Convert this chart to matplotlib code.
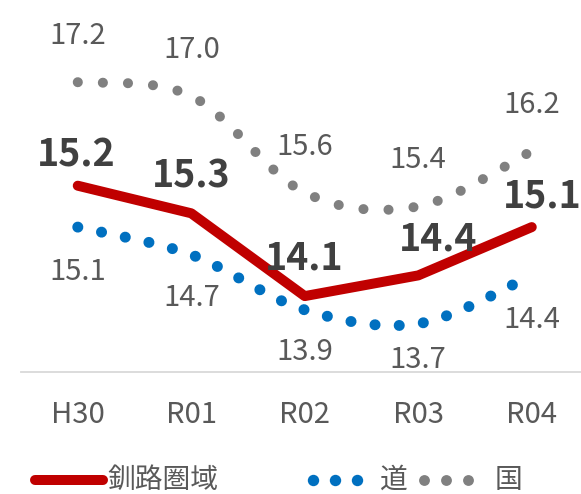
import matplotlib
matplotlib.use("Agg")
import matplotlib.pyplot as plt
from matplotlib.path import Path
from matplotlib.patches import PathPatch
from matplotlib.lines import Line2D
import numpy as np

plt.rcParams['font.family'] = ['Noto Sans CJK JP', 'DejaVu Sans']

categories = ["H30", "R01", "R02", "R03", "R04"]
kushiro_values = [15.7, 15.3, 14.1, 14.4, 15.1]
kushiro_labels = ["15.2", "15.3", "14.1", "14.4", "15.1"]
do_values = [15.1, 14.7, 13.9, 13.7, 14.4]
kuni_values = [17.2, 17.0, 15.6, 15.4, 16.2]
series_names = ["釧路圏域", "道", "国"]

RED = "#C00000"
BLUE = "#0070C0"
GRAY = "#808080"
TXT = "#595959"
BOLDTXT = "#404040"

W, H = 581, 494
fig = plt.figure(figsize=(W / 100, H / 100), dpi=100)
ax = fig.add_axes([21 / W, 1 - 372 / H, 567.5 / W, 345 / H])
ax.set_xlim(-0.5, len(categories) - 0.5)
ax.set_ylim(13, 18)

for s in ["top", "right", "left"]:
    ax.spines[s].set_visible(False)
ax.spines["bottom"].set_color("#D9D9D9")
ax.spines["bottom"].set_linewidth(1.3)
ax.set_yticks([])
x = np.arange(len(categories))
ax.set_xticks(x)
ax.set_xticklabels(categories, fontsize=21, color=TXT)
ax.tick_params(axis="x", length=0, pad=20)


def smooth_path(xs, ys, k=1 / 6):
    pts = np.column_stack([xs, ys]).astype(float)
    n = len(pts)
    verts = [pts[0]]
    codes = [Path.MOVETO]
    for i in range(n - 1):
        p0 = pts[i - 1] if i > 0 else pts[i]
        p1 = pts[i]
        p2 = pts[i + 1]
        p3 = pts[i + 2] if i + 2 < n else pts[i + 1]
        c1 = p1 + (p2 - p0) * k
        c2 = p2 - (p3 - p1) * k
        verts += [c1, c2, p2]
        codes += [Path.CURVE4] * 3
    return Path(verts, codes)


# dotted smoothed series
kuni_patch = PathPatch(smooth_path(x, kuni_values), fill=False, edgecolor=GRAY,
                       linewidth=7.2, linestyle=(0, (0.01, 2.5)), capstyle="round",
                       zorder=2)
ax.add_patch(kuni_patch)
do_patch = PathPatch(smooth_path(x, do_values), fill=False, edgecolor=BLUE,
                     linewidth=7.9, linestyle=(0, (0.01, 2.2)), capstyle="round",
                     zorder=2)
ax.add_patch(do_patch)

ax.plot(x, kushiro_values, color=RED, linewidth=7.2, solid_capstyle="round",
        solid_joinstyle="round", zorder=3)

px = 0.72  # points per pixel
for xi, v in zip(x, kuni_values):
    ax.annotate(f"{v:.1f}", (xi, v), xytext=(0, 46 * px), textcoords="offset points",
                ha="center", va="center", fontsize=21, color=TXT)
do_offsets = [-45, -43, -42, -36, -45]
for xi, v, off in zip(x, do_values, do_offsets):
    ax.annotate(f"{v:.1f}", (xi, v), xytext=(0, off * px), textcoords="offset points",
                ha="center", va="center", fontsize=21, color=TXT)
red_offsets = [(-2, 31), (0, 37), (-1, 38), (20, 36), (10, 31)]
for xi, v, lab, (dx, dy) in zip(x, kushiro_values, kushiro_labels, red_offsets):
    ax.annotate(lab, (xi, v), xytext=(dx * px, dy * px), textcoords="offset points",
                ha="center", va="center", fontsize=27, fontweight="bold", color=BOLDTXT)

# legend (figure coordinates)
ly = 1 - 480 / H
fig.add_artist(Line2D([35 / W, 103 / W], [ly, ly], color=RED, linewidth=7.2,
                      solid_capstyle="round", transform=fig.transFigure))
fig.text(107 / W, ly, series_names[0], ha="left", va="center", fontsize=20, color=TXT)
fig.add_artist(Line2D([313 / W, 335 / W, 357 / W], [ly] * 3, color=BLUE, linestyle="none",
                      marker="o", markersize=8.2, markeredgewidth=0,
                      transform=fig.transFigure))
fig.text(380 / W, ly, series_names[1], ha="left", va="center", fontsize=20, color=TXT)
fig.add_artist(Line2D([424 / W, 446 / W, 468 / W], [ly] * 3, color=GRAY, linestyle="none",
                      marker="o", markersize=7.8, markeredgewidth=0,
                      transform=fig.transFigure))
fig.text(495 / W, ly, series_names[2], ha="left", va="center", fontsize=20, color=TXT)

fig.savefig("out.png", dpi=100)
